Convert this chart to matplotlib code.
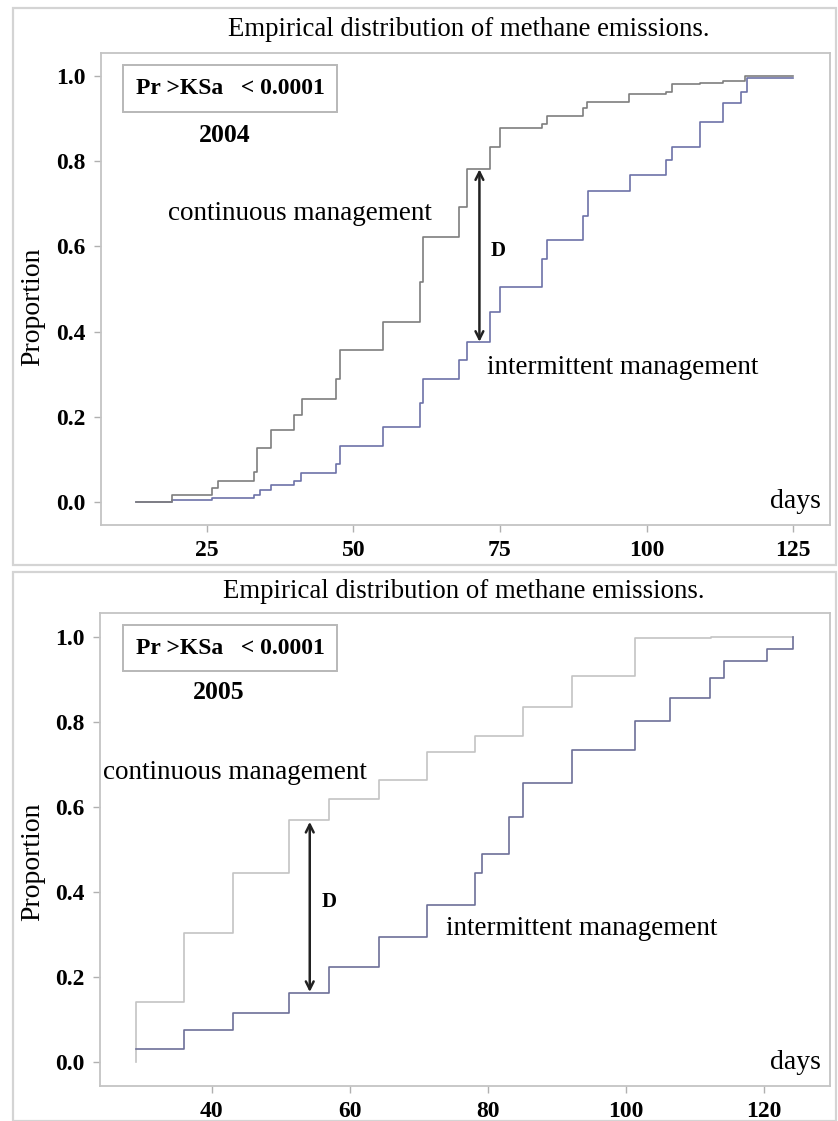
import matplotlib
matplotlib.use("Agg")
import matplotlib.pyplot as plt
from matplotlib.patches import Rectangle

# -----------------------------------
# Data
# -----------------------------------
cont04_days = [13, 19, 25.8, 26.9, 33.0, 33.5, 36.0, 39.8, 41.2, 47.1, 47.8, 55.0, 61.3, 61.9,
               68.1, 69.3, 73.3, 75.0, 82.1, 83.1, 89.2, 89.9, 97.0, 103.4, 104.3, 109.1, 113.1, 116.8, 125]
cont04_prop = [0, 0.016, 0.032, 0.05, 0.071, 0.126, 0.169, 0.204, 0.241, 0.288, 0.357, 0.423, 0.517, 0.623,
               0.693, 0.781, 0.833, 0.877, 0.887, 0.906, 0.924, 0.938, 0.958, 0.962, 0.981, 0.984, 0.988, 1.0, 1.0]

int04_days = [13, 19, 25.8, 33.0, 34.0, 36.0, 39.8, 41.0, 47.1, 47.8, 55.0, 61.3, 61.9, 68.1, 69.3,
              73.3, 75.0, 82.1, 83.1, 89.2, 90.0, 97.1, 103.3, 104.3, 109.2, 113.1, 116.2, 117.1, 125]
int04_prop = [0, 0.005, 0.009, 0.016, 0.028, 0.04, 0.05, 0.067, 0.09, 0.131, 0.177, 0.233, 0.288, 0.333, 0.376,
              0.445, 0.505, 0.571, 0.615, 0.671, 0.730, 0.768, 0.803, 0.833, 0.893, 0.936, 0.963, 0.995, 0.995]

cont05_days = [29, 29, 36.0, 43.1, 51.2, 57.0, 64.2, 71.2, 78.1, 85.1, 92.2, 101.3, 112.4, 124.2]
cont05_prop = [0, 0.142, 0.303, 0.444, 0.569, 0.618, 0.664, 0.730, 0.767, 0.836, 0.907, 0.997, 1.0, 1.0]

int05_days = [29, 36.0, 43.1, 51.2, 57.0, 64.2, 71.2, 78.1, 79.1, 83.1, 85.1, 92.2, 101.3, 106.4,
              112.2, 114.2, 120.4, 124.2]
int05_prop = [0.032, 0.075, 0.116, 0.162, 0.224, 0.295, 0.369, 0.444, 0.489, 0.576, 0.657, 0.734, 0.801, 0.857,
              0.903, 0.944, 0.971, 1.0]

x_ticks_04 = [25, 50, 75, 100, 125]
x_ticks_05 = [40, 60, 80, 100, 120]
y_ticks = [0.0, 0.2, 0.4, 0.6, 0.8, 1.0]

TITLE = "Empirical distribution of methane emissions."
KS_TEXT = "Pr >KSa   < 0.0001"

plt.rcParams["font.family"] = ["Liberation Serif", "DejaVu Serif"]

fig = plt.figure(figsize=(8.38, 11.21), dpi=100)

# light panel frames round each chart
for y0, h in [(1 - 565 / 1121, (565 - 8) / 1121), (0.0, (1121 - 572) / 1121)]:
    fig.patches.append(Rectangle((13 / 838, y0), (836 - 13) / 838, h, transform=fig.transFigure,
                                 fill=False, edgecolor="#d4d4d4", lw=1.6))


def style_axes(ax, xticks):
    for s in ax.spines.values():
        s.set_color("#c4c4c4")
        s.set_linewidth(1.3)
    ax.set_xticks(xticks)
    ax.set_yticks(y_ticks)
    ax.set_yticklabels([f"{v:.1f}" for v in y_ticks])
    ax.tick_params(length=5, width=1, color="#b0b0b0", labelsize=17, pad=6)
    for lab in ax.get_xticklabels() + ax.get_yticklabels():
        lab.set_fontweight("bold")


def ks_box(ax, x0, x1, y0, y1):
    ax.add_patch(Rectangle((x0, y0), x1 - x0, y1 - y0, transform=ax.transAxes,
                           fill=False, edgecolor="#b8b8b8", lw=1.4))
    ax.text((x0 + x1) / 2, (y0 + y1) / 2, KS_TEXT, transform=ax.transAxes, fontsize=17,
            fontweight="bold", ha="center", va="center")


# -----------------------------------
# Top panel: 2004
# -----------------------------------
ax1 = fig.add_axes([100.7 / 838, 1 - 525 / 1121, (830 - 100.7) / 838, (525 - 53) / 1121])
ax1.step(int04_days, int04_prop, where="post", color="#6d72a8", lw=1.2)
ax1.step(cont04_days, cont04_prop, where="post", color="#7e7e7e", lw=1.2)
ax1.set_xlim(6.9, 131.3)
ax1.set_ylim(-0.054, 1.054)
style_axes(ax1, x_ticks_04)
fig.text(469 / 838, 1 - 30 / 1121, TITLE, ha="center", va="center", fontsize=19.3)
fig.text(33 / 838, 1 - 307 / 1121, "Proportion", rotation=90, ha="center", va="center", fontsize=20)

ax1.annotate("", xy=(71.5, 0.376), xytext=(71.5, 0.781),
             arrowprops=dict(arrowstyle="<->", color="#222222", lw=1.8, mutation_scale=14,
                             shrinkA=0, shrinkB=0))
ax1.text(73.4, 0.59, "D", fontsize=15, fontweight="bold", va="center", ha="left")
ax1.text(18.3, 0.678, "continuous management", fontsize=19.5, va="center", ha="left")
ax1.text(72.8, 0.315, "intermittent management", fontsize=19.5, va="center", ha="left")
ax1.text(0.987, 0.05, "days", transform=ax1.transAxes, fontsize=20, ha="right", va="center")
ks_box(ax1, 0.0306, 0.324, 0.875, 0.9746)
ax1.text(0.170, 0.826, "2004", transform=ax1.transAxes, fontsize=18.5, fontweight="bold",
         ha="center", va="center")

# -----------------------------------
# Bottom panel: 2005
# -----------------------------------
ax2 = fig.add_axes([100 / 838, 1 - 1086 / 1121, (830 - 100) / 838, (1086 - 613) / 1121])
ax2.step(cont05_days, cont05_prop, where="post", color="#c4c4c4", lw=1.2)
ax2.step(int05_days, int05_prop, where="post", color="#6d7098", lw=1.2)
ax2.set_xlim(23.8, 129.6)
ax2.set_ylim(-0.056, 1.056)
style_axes(ax2, x_ticks_05)
fig.text(464 / 838, 1 - 592 / 1121, TITLE, ha="center", va="center", fontsize=19.3)
fig.text(33 / 838, 1 - 862 / 1121, "Proportion", rotation=90, ha="center", va="center", fontsize=20)

ax2.annotate("", xy=(54.2, 0.165), xytext=(54.2, 0.565),
             arrowprops=dict(arrowstyle="<->", color="#222222", lw=1.8, mutation_scale=14,
                             shrinkA=0, shrinkB=0))
ax2.text(55.9, 0.377, "D", fontsize=15, fontweight="bold", va="center", ha="left")
ax2.text(24.2, 0.68, "continuous management", fontsize=19.5, va="center", ha="left")
ax2.text(73.9, 0.315, "intermittent management", fontsize=19.5, va="center", ha="left")
ax2.text(0.987, 0.05, "days", transform=ax2.transAxes, fontsize=20, ha="right", va="center")
ks_box(ax2, 0.0315, 0.3247, 0.877, 0.9746)
ax2.text(0.162, 0.831, "2005", transform=ax2.transAxes, fontsize=18.5, fontweight="bold",
         ha="center", va="center")

fig.savefig("out.png", dpi=100)
